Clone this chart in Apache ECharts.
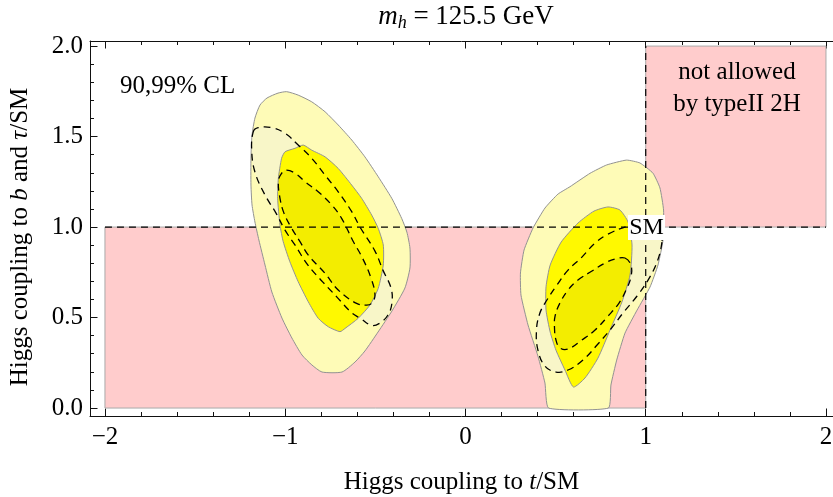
<!DOCTYPE html>
<html>
<head>
<meta charset="utf-8">
<script src="https://cdn.jsdelivr.net/npm/echarts@6/dist/echarts.min.js"></script>
<style>
html,body{margin:0;padding:0;background:#fff;}
#chart{width:833px;height:497px;}
</style>
</head>
<body>
<div id="chart"></div>
<script>
// ---------------- data ----------------
const xMajorTicks = [-2, -1, 0, 1, 2];
const xMinorTicks = [-1.8,-1.6,-1.4,-1.2,-0.8,-0.6,-0.4,-0.2,0.2,0.4,0.6,0.8,1.2,1.4,1.6,1.8];
const yMajorTicks = [0, 0.5, 1, 1.5, 2];
const yMinorTicks = [0.1,0.2,0.3,0.4,0.6,0.7,0.8,0.9,1.1,1.2,1.3,1.4,1.6,1.7,1.8,1.9];

// excluded regions (type II 2HDM) and SM reference lines
const excludedLow  = [[-2,0],[1,0],[1,1],[-2,1]];
const excludedHigh = [[1,1],[2,1],[2,2],[1,2]];
const smLineH = [[-2,1],[2,1]];
const smLineV = [[1,0],[1,2]];

// left island (negative top coupling)
const leftOuter99 = [[-0.992,1.748],[-0.928,1.729],[-0.853,1.692],[-0.779,1.637],[-0.706,1.564],[-0.631,1.481],[-0.558,1.388],[-0.484,1.278],[-0.409,1.159],[-0.354,1.048],[-0.325,0.972],[-0.308,0.884],[-0.308,0.774],[-0.336,0.663],[-0.408,0.536],[-0.485,0.420],[-0.558,0.315],[-0.613,0.254],[-0.685,0.199],[-0.796,0.199],[-0.852,0.238],[-0.907,0.293],[-0.963,0.387],[-1.018,0.497],[-1.074,0.641],[-1.112,0.790],[-1.146,0.928],[-1.168,1.028],[-1.184,1.122],[-1.190,1.232],[-1.190,1.381],[-1.184,1.508],[-1.168,1.602],[-1.140,1.674],[-1.101,1.713],[-1.040,1.740]];
const leftInner90 = [[-0.900,1.453],[-0.853,1.425],[-0.779,1.388],[-0.706,1.324],[-0.631,1.232],[-0.576,1.159],[-0.520,1.066],[-0.484,0.993],[-0.456,0.901],[-0.456,0.790],[-0.484,0.661],[-0.530,0.569],[-0.595,0.496],[-0.668,0.440],[-0.696,0.422],[-0.761,0.449],[-0.817,0.496],[-0.872,0.587],[-0.928,0.698],[-0.974,0.808],[-1.011,0.919],[-1.029,1.011],[-1.042,1.159],[-1.038,1.269],[-1.020,1.380],[-1.001,1.416],[-0.946,1.435]];
const leftDash99 = [[-1.177,1.527],[-1.150,1.549],[-1.075,1.549],[-1.001,1.518],[-0.928,1.453],[-0.853,1.380],[-0.779,1.287],[-0.706,1.195],[-0.631,1.085],[-0.585,1.000],[-0.502,0.867],[-0.458,0.762],[-0.413,0.663],[-0.408,0.580],[-0.430,0.514],[-0.474,0.470],[-0.519,0.456],[-0.585,0.497],[-0.630,0.525],[-0.713,0.613],[-0.791,0.696],[-0.874,0.790],[-0.946,0.901],[-1.001,0.983],[-1.051,1.077],[-1.112,1.177],[-1.168,1.304],[-1.186,1.425]];
const leftDash90 = [[-0.992,1.315],[-0.936,1.291],[-0.890,1.250],[-0.817,1.195],[-0.742,1.122],[-0.687,1.048],[-0.624,0.923],[-0.574,0.834],[-0.524,0.718],[-0.502,0.624],[-0.519,0.580],[-0.548,0.569],[-0.604,0.578],[-0.706,0.652],[-0.779,0.744],[-0.872,0.845],[-0.918,0.919],[-0.964,0.993],[-1.007,1.077],[-1.029,1.159],[-1.038,1.250],[-1.023,1.293]];

// right island (SM-like top coupling)
const rightOuter99 = [[0.894,1.370],[0.968,1.354],[1.040,1.298],[1.079,1.216],[1.099,1.094],[1.096,0.928],[1.068,0.790],[1.024,0.669],[0.952,0.541],[0.885,0.414],[0.839,0.265],[0.807,0.127],[0.793,0.000],[0.461,0.000],[0.441,0.138],[0.402,0.287],[0.347,0.459],[0.308,0.624],[0.305,0.746],[0.325,0.873],[0.375,0.995],[0.441,1.105],[0.513,1.182],[0.580,1.223],[0.691,1.297],[0.783,1.343]];
const rightInner90 = [[0.791,1.111],[0.857,1.094],[0.902,1.028],[0.924,0.901],[0.913,0.735],[0.868,0.586],[0.802,0.431],[0.735,0.276],[0.663,0.166],[0.599,0.116],[0.552,0.210],[0.502,0.320],[0.470,0.420],[0.447,0.541],[0.447,0.670],[0.470,0.790],[0.531,0.917],[0.624,1.022],[0.713,1.088]];
const rightDash99 = [[1.090,0.917],[1.063,0.807],[1.013,0.707],[0.952,0.619],[0.874,0.525],[0.802,0.431],[0.735,0.354],[0.652,0.265],[0.569,0.210],[0.502,0.199],[0.441,0.232],[0.402,0.320],[0.394,0.431],[0.413,0.525],[0.452,0.597],[0.508,0.680],[0.569,0.762],[0.646,0.834],[0.719,0.912],[0.791,0.961],[0.885,1.000],[0.968,1.022],[1.051,1.006],[1.085,0.967]];
const rightDash90 = [[0.885,0.829],[0.918,0.790],[0.918,0.724],[0.891,0.652],[0.852,0.580],[0.791,0.508],[0.719,0.431],[0.646,0.376],[0.569,0.326],[0.524,0.332],[0.502,0.376],[0.494,0.442],[0.497,0.508],[0.524,0.580],[0.569,0.652],[0.624,0.707],[0.702,0.757],[0.774,0.801],[0.830,0.823]];

// ---------------- chart ----------------
const FONT = "'Liberation Serif','DejaVu Serif',serif";
const FS = 25;
const X_MIN = -2.083, X_MAX = 2.039, Y_MIN = -0.044, Y_MAX = 2.028;

function polygonSeries(id, pts, style, z, smooth) {
  return {
    type: 'custom', id: id, z: z, silent: true, animation: false,
    xAxisIndex: 0, yAxisIndex: 0,
    data: pts,
    renderItem: function (params, api) {
      if (params.dataIndex !== 0) return null;
      return {
        type: 'polygon',
        shape: { points: pts.map(function (p) { return api.coord(p); }), smooth: smooth || 0 },
        style: style
      };
    }
  };
}
function lineSeries(id, pts, z) {
  return {
    type: 'line', id: id, z: z, silent: true, animation: false,
    xAxisIndex: 0, yAxisIndex: 0, data: pts, symbol: 'none',
    lineStyle: { color: '#000', width: 1.2, type: [7, 5] }
  };
}

const PINK = { fill: '#FFCCCC', stroke: '#AAAAAA', lineWidth: 1 };
const LIGHT = { fill: '#FEFBB7', stroke: '#929292', lineWidth: 1 };
const BRIGHT = { fill: '#FFF900', stroke: '#929292', lineWidth: 1 };
const FAINT99 = { fill: 'rgba(238,238,228,0.38)', stroke: null };
const FAINT90 = { fill: 'rgba(90,90,0,0.07)', stroke: null };
const DASH = { fill: null, stroke: '#000', lineWidth: 1.3, lineDash: [7, 5] };

const tickStyle = { color: '#111', width: 1 };
function xAxisDef(pos, ticks, len, labels, showLine, extra) {
  return Object.assign({
    type: 'value', position: pos, min: X_MIN, max: X_MAX,
    axisLine: { show: showLine, onZero: false, lineStyle: { color: '#111', width: 1 } },
    axisTick: { show: true, inside: true, length: len, customValues: ticks, lineStyle: tickStyle },
    axisLabel: labels ? {
      customValues: ticks, margin: 9, color: '#000', fontSize: FS, fontFamily: FONT,
      formatter: function (v) { return v < 0 ? '\u2212' + Math.abs(v) : String(v); }
    } : { show: false },
    splitLine: { show: false }
  }, extra || {});
}
function yAxisDef(ticks, len, labels, extra) {
  return Object.assign({
    type: 'value', position: 'left', min: Y_MIN, max: Y_MAX,
    axisLine: { show: !!labels, onZero: false, lineStyle: { color: '#111', width: 1 } },
    axisTick: { show: true, inside: true, length: len, customValues: ticks, lineStyle: tickStyle },
    axisLabel: labels ? {
      customValues: ticks, margin: 7, color: '#000', fontSize: FS, fontFamily: FONT,
      formatter: function (v) { return v.toFixed(1); }
    } : { show: false },
    splitLine: { show: false }
  }, extra || {});
}

const nameRich = {
  n: { fontSize: FS, fontFamily: FONT, color: '#000' },
  i: { fontSize: FS, fontFamily: FONT, fontStyle: 'italic', color: '#000' }
};

const option = {
  backgroundColor: '#fff',
  animation: false,
  grid: { left: 90, right: 0, top: 41, bottom: 81, containLabel: false, outerBoundsMode: 'none' },
  xAxis: [
    xAxisDef('bottom', xMajorTicks, 7.5, true, true, {
      name: '{n|Higgs coupling to }{i|t}{n|/SM}', nameLocation: 'middle', nameGap: 54,
      nameTextStyle: { rich: nameRich }
    }),
    xAxisDef('bottom', xMinorTicks, 4, false, false),
    xAxisDef('top', xMajorTicks, 7.5, false, true),
    xAxisDef('top', xMinorTicks, 4, false, false)
  ],
  yAxis: [
    yAxisDef(yMajorTicks, 7.5, true),
    yAxisDef(yMinorTicks, 4, false)
  ],
  series: [
    polygonSeries('excludedLow', excludedLow, PINK, 1),
    polygonSeries('excludedHigh', excludedHigh, PINK, 1),
    polygonSeries('leftOuter99', leftOuter99, LIGHT, 2, 0.2),
    polygonSeries('rightOuter99', rightOuter99, LIGHT, 2, 0.15),
    polygonSeries('leftDash99Fill', leftDash99, FAINT99, 3, 0.4),
    polygonSeries('rightDash99Fill', rightDash99, FAINT99, 3, 0.4),
    polygonSeries('leftInner90', leftInner90, BRIGHT, 4, 0.2),
    polygonSeries('rightInner90', rightInner90, BRIGHT, 4, 0.2),
    polygonSeries('leftDash90Fill', leftDash90, FAINT90, 5, 0.4),
    polygonSeries('rightDash90Fill', rightDash90, FAINT90, 5, 0.4),
    polygonSeries('leftDash99', leftDash99, DASH, 6, 0.4),
    polygonSeries('leftDash90', leftDash90, DASH, 6, 0.4),
    polygonSeries('rightDash99', rightDash99, DASH, 6, 0.4),
    polygonSeries('rightDash90', rightDash90, DASH, 6, 0.4),
    lineSeries('smLineH', smLineH, 7),
    lineSeries('smLineV', smLineV, 7)
  ],
  graphic: [
    { type: 'text', z: 100, x: 466, y: 17, style: {
        text: '{i|m}{s|h}{n| = 125.5 GeV}', align: 'center', verticalAlign: 'middle',
        rich: {
          i: { fontSize: 27, fontFamily: FONT, fontStyle: 'italic', fill: '#000', lineHeight: 30 },
          s: { fontSize: 18, fontFamily: FONT, fontStyle: 'italic', fill: '#000', lineHeight: 15, verticalAlign: 'bottom' },
          n: { fontSize: 27, fontFamily: FONT, fill: '#000', lineHeight: 30 }
        } } },
    { type: 'text', z: 100, x: 20, y: 237, rotation: Math.PI / 2, style: {
        text: '{n|Higgs coupling to }{i|b}{n| and }{i|\u03c4}{n|/SM}', align: 'center', verticalAlign: 'middle',
        rich: {
          n: { fontSize: FS, fontFamily: FONT, fill: '#000' },
          i: { fontSize: FS, fontFamily: FONT, fontStyle: 'italic', fill: '#000' }
        } } },
    { type: 'text', z: 100, x: 120, y: 86, style: { text: '90,99% CL', font: FS + 'px ' + FONT, fill: '#000', align: 'left', verticalAlign: 'middle' } },
    { type: 'text', z: 100, x: 737, y: 72, style: { text: 'not allowed', font: FS + 'px ' + FONT, fill: '#000', align: 'center', verticalAlign: 'middle' } },
    { type: 'text', z: 100, x: 737, y: 104, style: { text: 'by typeII 2H', font: FS + 'px ' + FONT, fill: '#000', align: 'center', verticalAlign: 'middle' } },
    { type: 'rect', z: 100, shape: { x: 628, y: 215, width: 37, height: 25 }, style: { fill: '#fff' } },
    { type: 'text', z: 101, x: 646.5, y: 228, style: { text: 'SM', font: '24px ' + FONT, fill: '#000', align: 'center', verticalAlign: 'middle' } }
  ]
};

const chart = echarts.init(document.getElementById('chart'), null, { renderer: 'canvas' });
chart.setOption(option);
</script>
</body>
</html>
